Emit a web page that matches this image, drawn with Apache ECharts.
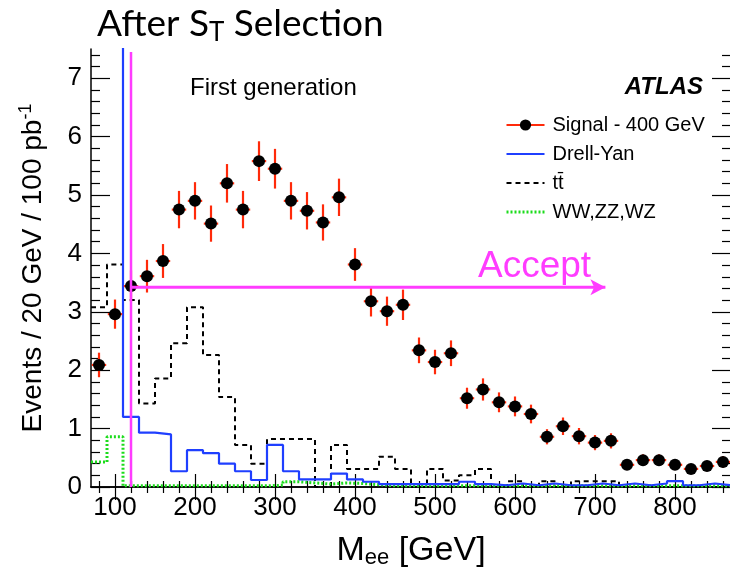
<!DOCTYPE html>
<html>
<head>
<meta charset="utf-8">
<script src="https://cdn.jsdelivr.net/npm/echarts@6/dist/echarts.min.js"></script>
<style>
html,body{margin:0;padding:0;background:#fff;}
#chart{width:730px;height:574px;}
</style>
</head>
<body>
<div id="chart"></div>
<script>
// ---------------- data ----------------
const binCenters = [80,100,120,140,160,180,200,220,240,260,280,300,320,340,360,380,400,420,440,460,
                    480,500,520,540,560,580,600,620,640,660,680,700,720,740,760,780,800,820,840,860];
const binHalfWidth = 10;
const signal = [2.09,2.96,3.44,3.61,3.87,4.75,4.90,4.51,5.20,4.75,5.58,5.45,4.90,4.73,4.53,4.96,3.81,3.18,3.01,3.12,
                2.34,2.14,2.29,1.52,1.67,1.45,1.38,1.25,0.86,1.04,0.87,0.76,0.79,0.38,0.46,0.46,0.38,0.31,0.36,0.43];
const signalErr = [0.21,0.25,0.27,0.28,0.29,0.32,0.32,0.31,0.33,0.32,0.34,0.34,0.32,0.32,0.31,0.32,0.28,0.26,0.25,0.26,
                   0.22,0.21,0.22,0.18,0.19,0.17,0.17,0.16,0.13,0.15,0.14,0.13,0.13,0.09,0.10,0.10,0.09,0.08,0.09,0.10];
const drellYan = [40,60,1.20,0.93,0.90,0.27,0.63,0.58,0.40,0.27,0.12,0.72,0.27,0.13,0.13,0.23,0.13,0.09,0.05,0.05,
                  0.05,0.05,0.05,0.09,0.05,0.03,0.06,0.03,0.06,0.03,0.03,0.06,0.03,0.06,0.03,0.06,0.10,0.03,0.06,0.03];
const ttbar = [3.08,3.81,3.20,1.43,1.86,2.46,3.08,2.26,1.54,0.72,0.40,0.82,0.82,0.82,0.00,0.72,0.31,0.31,0.52,0.31,
               0.00,0.31,0.11,0.20,0.31,0.00,0.10,0.00,0.10,0.00,0.10,0.10,0.10,0.00,0.00,0.00,0.00,0.00,0.00,0.00];
const diboson = [0.43,0.86,0.02,0.02,0.02,0.02,0.02,0.02,0.02,0.02,0.02,0.03,0.09,0.07,0.05,0.07,0.06,0.04,0.02,0.02,
                 0.02,0.02,0.02,0.02,0.02,0.02,0.02,0.02,0.02,0.02,0.02,0.02,0.02,0.02,0.02,0.02,0.02,0.02,0.02,0.02];
const xMajorTicks = [100,200,300,400,500,600,700,800];
const xMinorTicks = [80,120,140,160,180,220,240,260,280,320,340,360,380,420,440,460,480,520,540,560,580,
                     620,640,660,680,720,740,760,780,820,840,860];
const yMajorTicks = [0,1,2,3,4,5,6,7];
const yMinorTicks = [0.2,0.4,0.6,0.8,1.2,1.4,1.6,1.8,2.2,2.4,2.6,2.8,3.2,3.4,3.6,3.8,4.2,4.4,4.6,4.8,
                     5.2,5.4,5.6,5.8,6.2,6.4,6.6,6.8,7.2,7.4];
const xRange = [70, 870];
const yRange = [0, 7.5];
const cutValue = 120;
const cutTop = 7.45;
const acceptY = 3.42;
const acceptEnd = 713;

// ---------------- helpers ----------------
function histSteps(vals){
  const pts = vals.map((v,i)=>[binCenters[i]-binHalfWidth, v]);
  pts.push([binCenters[vals.length-1]+binHalfWidth, vals[vals.length-1]]);
  return pts;
}
const RED = '#ff2a0a', BLUE = '#1f3fff', PINK = '#ff3cff', GREEN = '#1cdc1c';
const FONT = 'Liberation Sans';

const axisLine = {show:true, lineStyle:{color:'#000', width:1.5}};
function xAx(pos, ticks, len, showLine, showLabel){
  return {
    type:'value', min:xRange[0], max:xRange[1], position:pos,
    axisLine: showLine ? axisLine : {show:false},
    axisTick:{show:true, inside:true, length:len, customValues:ticks, lineStyle:{color:'#000', width:1.2}},
    axisLabel: showLabel ? {show:true, customValues:xMajorTicks, fontSize:26, color:'#000', fontFamily:FONT, margin:8} : {show:false},
    splitLine:{show:false}
  };
}
function yAx(pos, minor, showLabel){
  return {
    type:'value', min:yRange[0], max:yRange[1], position:pos,
    axisLine: minor ? {show:false} : axisLine,
    axisTick: {show:true, inside:true, length: minor ? 9 : 19, customValues: minor ? yMinorTicks : yMajorTicks,
               lineStyle:{color:'#000', width:1.2}},
    axisLabel: showLabel ? {show:true, customValues:yMajorTicks, fontSize:26, color:'#000', fontFamily:FONT, margin:9} : {show:false},
    splitLine:{show:false}
  };
}

const xAxes = [xAx('bottom', xMajorTicks, 13, true, true), xAx('bottom', xMinorTicks, 6, false, false),
               xAx('top', xMajorTicks, 13, true, false), xAx('top', xMinorTicks, 6, false, false)];
xAxes[0].name = 'M{sub|ee} [GeV]';
xAxes[0].nameLocation = 'middle';
xAxes[0].nameGap = 46;
xAxes[0].nameTextStyle = {fontSize:34, color:'#000', fontFamily:FONT,
  rich:{sub:{fontSize:22, color:'#000', fontFamily:FONT, padding:[14,0,0,0]}}};

const yAxes = [yAx('left', false, true), yAx('left', true, false), yAx('right', false, false), yAx('right', true, false)];
yAxes[0].name = 'Events / 20 GeV / 100 pb{sup|-1}';
yAxes[0].nameLocation = 'middle';
yAxes[0].nameGap = 42;
yAxes[0].nameTextStyle = {fontSize:28, color:'#000', fontFamily:FONT,
  rich:{sup:{fontSize:18, color:'#000', fontFamily:FONT, padding:[0,0,14,0]}}};

const chart = echarts.init(document.getElementById('chart'), null, {renderer:'canvas'});
chart.setOption({
  backgroundColor:'#fff',
  animation:false,
  grid:{left:91, top:49, right:-1, bottom:87, containLabel:false, outerBoundsMode:'none'},
  xAxis:xAxes,
  yAxis:yAxes,
  legend:{
    orient:'vertical', left:500, top:110, itemWidth:38, itemHeight:14, itemGap:9,
    textStyle:{fontSize:20, color:'#000', fontFamily:FONT, padding:[0,0,0,3]},
    data:[
      {name:'Signal - 400 GeV', itemStyle:{color:'#000'}, lineStyle:{color:RED, width:2}},
      {name:'Drell-Yan', itemStyle:{opacity:0}, lineStyle:{color:BLUE, width:2}},
      {name:'tt\u0304', itemStyle:{opacity:0}, lineStyle:{color:'#000', width:2, type:[5,4]}},
      {name:'WW,ZZ,WZ', itemStyle:{opacity:0}, lineStyle:{color:GREEN, width:3, type:[2,2]}}
    ],
    selectedMode:false
  },
  graphic:[
    {type:'text', left:97, top:6, style:{text:'After S{sub|T} Selection', fill:'#000', font:'37px Lato',
      rich:{sub:{fontSize:26, fontFamily:'Lato', fill:'#000', padding:[16,0,0,0]}}}},
    {type:'text', left:190, top:76, style:{text:'First generation', fill:'#000', font:'24px "Liberation Sans"'}},
    {type:'text', right:27, top:75, style:{text:'ATLAS', fill:'#000', font:'italic bold 24px "Liberation Sans"'}},
    {type:'text', left:478, top:248, style:{text:'Accept', fill:PINK, font:'37px "Liberation Sans"'}}
  ],
  series:[
    {name:'tt\u0304', type:'line', step:'end', data:histSteps(ttbar), symbol:'none',
     lineStyle:{color:'#000', width:2, type:[5,4]}, itemStyle:{color:'#000'}, z:2},
    {name:'WW,ZZ,WZ', type:'line', step:'end', data:histSteps(diboson), symbol:'none',
     lineStyle:{color:GREEN, width:3, type:[2,2]}, itemStyle:{color:GREEN}, z:3},
    {name:'Drell-Yan', type:'line', step:'end', data:histSteps(drellYan), symbol:'none',
     lineStyle:{color:BLUE, width:2.2}, itemStyle:{color:BLUE}, z:4},
    {name:'Signal - 400 GeV', type:'line', data:[], symbol:'circle', symbolSize:12,
     itemStyle:{color:'#000'}, lineStyle:{color:RED, width:2}},
    {name:'signal errors', type:'custom', z:5,
     data:signal.map((v,i)=>[binCenters[i], v, signalErr[i]]),
     encode:{x:0, y:1},
     renderItem:function(params, api){
       const x = api.value(0), y = api.value(1), e = api.value(2);
       const t = api.coord([x, y+e]), b = api.coord([x, y-e]);
       const l = api.coord([x-9, y]), r = api.coord([x+9, y]);
       return {type:'group', children:[
         {type:'line', shape:{x1:t[0], y1:t[1], x2:b[0], y2:b[1]}, style:{stroke:RED, lineWidth:2.2}},
         {type:'line', shape:{x1:l[0], y1:l[1], x2:r[0], y2:r[1]}, style:{stroke:RED, lineWidth:2.2}}
       ]};
     }},
    {name:'signal points', type:'scatter', z:6, symbol:'circle', symbolSize:12,
     data:signal.map((v,i)=>[binCenters[i], v]), itemStyle:{color:'#000', opacity:1}},
    {name:'cut line', type:'line', z:7, data:[[cutValue,0],[cutValue,cutTop]], symbol:'none',
     lineStyle:{color:PINK, width:2.5}},
    {name:'accept arrow', type:'line', z:7, showSymbol:true,
     data:[{value:[cutValue,acceptY], symbol:'none'},
           {value:[acceptEnd,acceptY], symbol:'arrow', symbolSize:[12,15], symbolRotate:-90}],
     lineStyle:{color:PINK, width:3}, itemStyle:{color:PINK}}
  ]
});
</script>
</body>
</html>
